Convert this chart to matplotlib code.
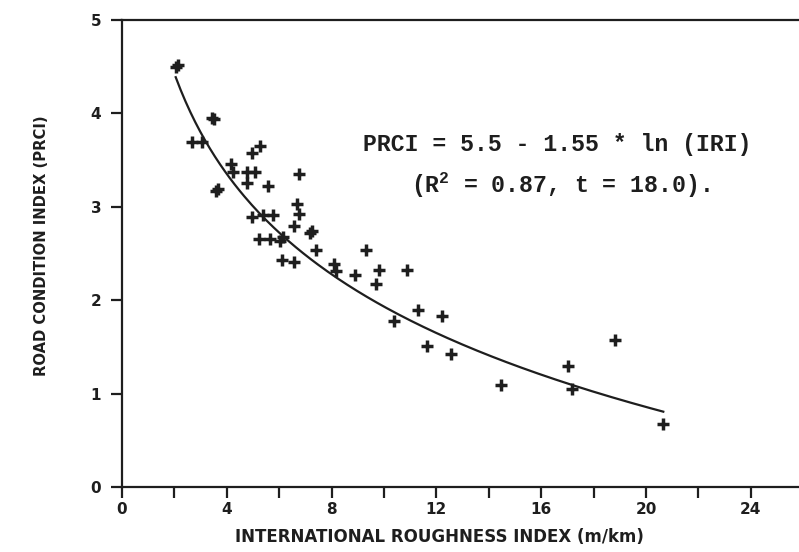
import numpy as np
import matplotlib.pyplot as plt

# road survey sections: roughness (m/km) vs condition rating
iri = [2.05, 2.14, 2.66, 3.04, 3.42, 3.50, 3.57, 3.66, 4.16, 4.25,
       4.76, 5.08, 4.76, 4.95, 5.27, 5.56, 6.76, 6.67, 6.76, 6.58,
       7.16, 7.26, 4.95, 5.39, 5.77, 5.24, 5.65, 6.03, 6.16, 6.10,
       6.58, 7.39, 8.10, 8.17, 9.30, 8.89, 9.81, 9.69, 10.89, 10.39,
       11.31, 12.22, 11.63, 12.55, 14.45, 17.03, 17.16, 18.82, 20.66]
prci = [4.50, 4.52, 3.69, 3.69, 3.95, 3.94, 3.17, 3.19, 3.46, 3.37,
        3.37, 3.37, 3.25, 3.58, 3.65, 3.22, 3.35, 3.03, 2.92, 2.79,
        2.72, 2.74, 2.89, 2.91, 2.91, 2.66, 2.66, 2.63, 2.68, 2.43,
        2.41, 2.54, 2.39, 2.31, 2.54, 2.27, 2.32, 2.17, 2.32, 1.78,
        1.90, 1.83, 1.51, 1.42, 1.09, 1.30, 1.05, 1.57, 0.67]

# fitted model PRCI = a - b * ln(IRI)
fit_a = 5.5
fit_b = 1.55
fit_r2 = 0.87
fit_t = 18.0

xticks = list(range(0, 26, 2))
yticks = [0, 1, 2, 3, 4, 5]

ink = '#1e1e1e'
plt.rcParams['mathtext.fontset'] = 'custom'
plt.rcParams['mathtext.rm'] = 'Liberation Mono:bold'
plt.rcParams['mathtext.it'] = 'Liberation Mono:bold'

fig = plt.figure(figsize=(7.99, 5.52), dpi=100)
ax = fig.add_axes([0.1527, 0.1178, 0.8473, 0.846])

ax.plot(iri, prci, linestyle='none', marker='+', markersize=9,
        markeredgewidth=2.5, color=ink)

xs = np.linspace(min(iri), max(iri), 200)
ax.plot(xs, fit_a - fit_b * np.log(xs), color=ink, linewidth=1.6)

ax.set_xlim(0, 25.84)
ax.set_ylim(0, 5)

ax.spines['right'].set_visible(False)
for s in ['left', 'bottom', 'top']:
    ax.spines[s].set_linewidth(1.6)
    ax.spines[s].set_color(ink)

ax.set_xticks(xticks)
ax.set_xticklabels([str(v) if v % 4 == 0 else '' for v in xticks])
ax.set_yticks(yticks)
ax.tick_params(direction='out', length=8, width=1.6, color=ink,
               labelcolor=ink)
ax.tick_params(axis='x', pad=3)
ax.tick_params(axis='y', pad=7)
for lab in ax.get_xticklabels() + ax.get_yticklabels():
    lab.set_fontfamily('DejaVu Sans')
    lab.set_fontweight('bold')
    lab.set_fontsize(11)

fig.text(439 / 799, 1 - 537 / 552, 'INTERNATIONAL ROUGHNESS INDEX (m/km)',
         ha='center', va='center', fontsize=12, fontweight='bold',
         family='DejaVu Sans', color=ink)
fig.text(42 / 799, 1 - 246 / 552, 'ROAD CONDITION INDEX (PRCI)',
         ha='center', va='center', rotation=90, fontsize=10.6,
         fontweight='bold', family='DejaVu Sans', color=ink)

fig.text(557 / 799, 1 - 145 / 552,
         f'PRCI = {fit_a} - {fit_b} * ln (IRI)',
         ha='center', va='center', fontsize=16.7, fontweight='bold',
         family='Liberation Mono', color=ink)
fig.text(560 / 799, 1 - 185 / 552,
         f'(R$^2$ = {fit_r2}, t = {fit_t}).',
         ha='center', va='center', fontsize=16.7, fontweight='bold',
         family='Liberation Mono', color=ink)

fig.savefig('out.png', dpi=100)
